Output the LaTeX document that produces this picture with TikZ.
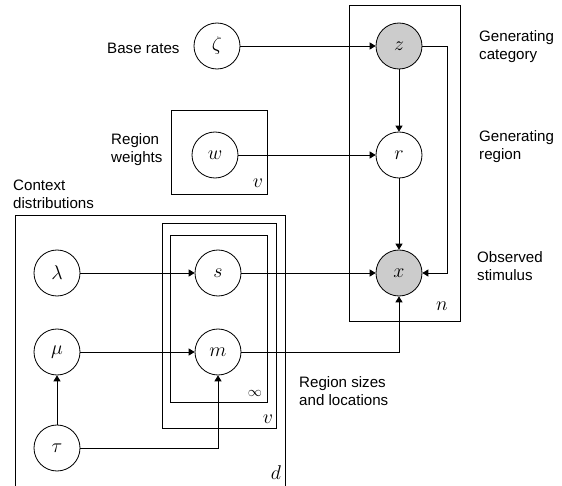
\documentclass[tikz,border=0pt]{standalone}
\usepackage{fix-cm}
\usepackage{fontspec}
\setmainfont{Liberation Sans}
\usepackage{amsmath, amssymb}
\usepackage{tikz}
\usetikzlibrary{arrows.meta}

\begin{document}
\begin{tikzpicture}[x=0.03cm,y=-0.03cm,
		font=\fontsize{12.9}{15.5}\selectfont,
		var/.style={circle,draw,line width=0.7pt,minimum size=1.38cm,inner sep=0pt,
			font=\fontsize{17}{19}\selectfont},
		obs/.style={var,fill=gray!40},
		plate/.style={draw,line width=0.7pt},
		plbl/.style={font=\fontsize{17}{19}\selectfont,inner sep=0pt},
		arr/.style={-{Triangle[length=5pt,width=6pt]},line width=0.7pt},
		txt/.style={anchor=west,align=left,inner sep=0pt}]
	
	\useasboundingbox (0,0) rectangle (562,486);
	
	% plates
	\draw[plate] (171,110) rectangle (267,194);
	\draw[plate] (349,5) rectangle (460,321);
	\draw[plate] (15,215) rectangle (285,492);
	\draw[plate] (162,223) rectangle (276,428);
	\draw[plate] (170,235) rectangle (267,402);
	
	\node[plbl] (vw) at (258,183) {$v$};
	\node[plbl] (nx) at (442,306) {$n$};
	\node[plbl,font=\fontsize{12}{14}\selectfont] (inf) at (255,393) {$\infty$};
	\node[plbl] (vs) at (268,419) {$v$};
	\node[plbl] (dd) at (276,473) {$d$};
	
	% variables
	\node[var] (zeta) at (217,46) {$\zeta$};
	\node[var] (w) at (215,155) {$w$};
	\node[obs] (z) at (399,46) {$z$};
	\node[var] (r) at (399,155) {$r$};
	\node[obs] (x) at (399,273) {$x$};
	\node[var] (lambda) at (57,273) {$\lambda$};
	\node[var] (s) at (218,273) {$s$};
	\node[var] (mu) at (57,352) {$\mu$};
	\node[var] (m) at (218,352) {$m$};
	\node[var] (tau) at (57,448) {$\tau$};
	
	% descriptions
	\node[txt] (t1) at (107,48) {Base rates};
	\node[txt] (t2) at (111,150) {Region\\weights};
	\node[txt] (t3) at (13,194) {Context\\distributions};
	\node[txt] (t4) at (479,47) {Generating\\category};
	\node[txt] (t5) at (479,147) {Generating\\region};
	\node[txt] (t6) at (477,266) {Observed\\stimulus};
	\node[txt] (t7) at (299,391) {Region sizes\\and locations};
	
	% edges
	\coordinate (zr) at (447,46);
	\draw[arr] (zeta) -- (z);
	\draw[arr] (w) -- (r);
	\draw[arr] (z) -- (r);
	\draw[arr] (r) -- (x);
	\draw[arr] (z) -- (zr) |- (x);
	\draw[arr] (lambda) -- (s);
	\draw[arr] (s) -- (x);
	\draw[arr] (mu) -- (m);
	\draw[arr] (m) -| (x);
	\draw[arr] (tau) -- (mu);
	\draw[arr] (tau) -| (m);
	
\end{tikzpicture}
\end{document}
